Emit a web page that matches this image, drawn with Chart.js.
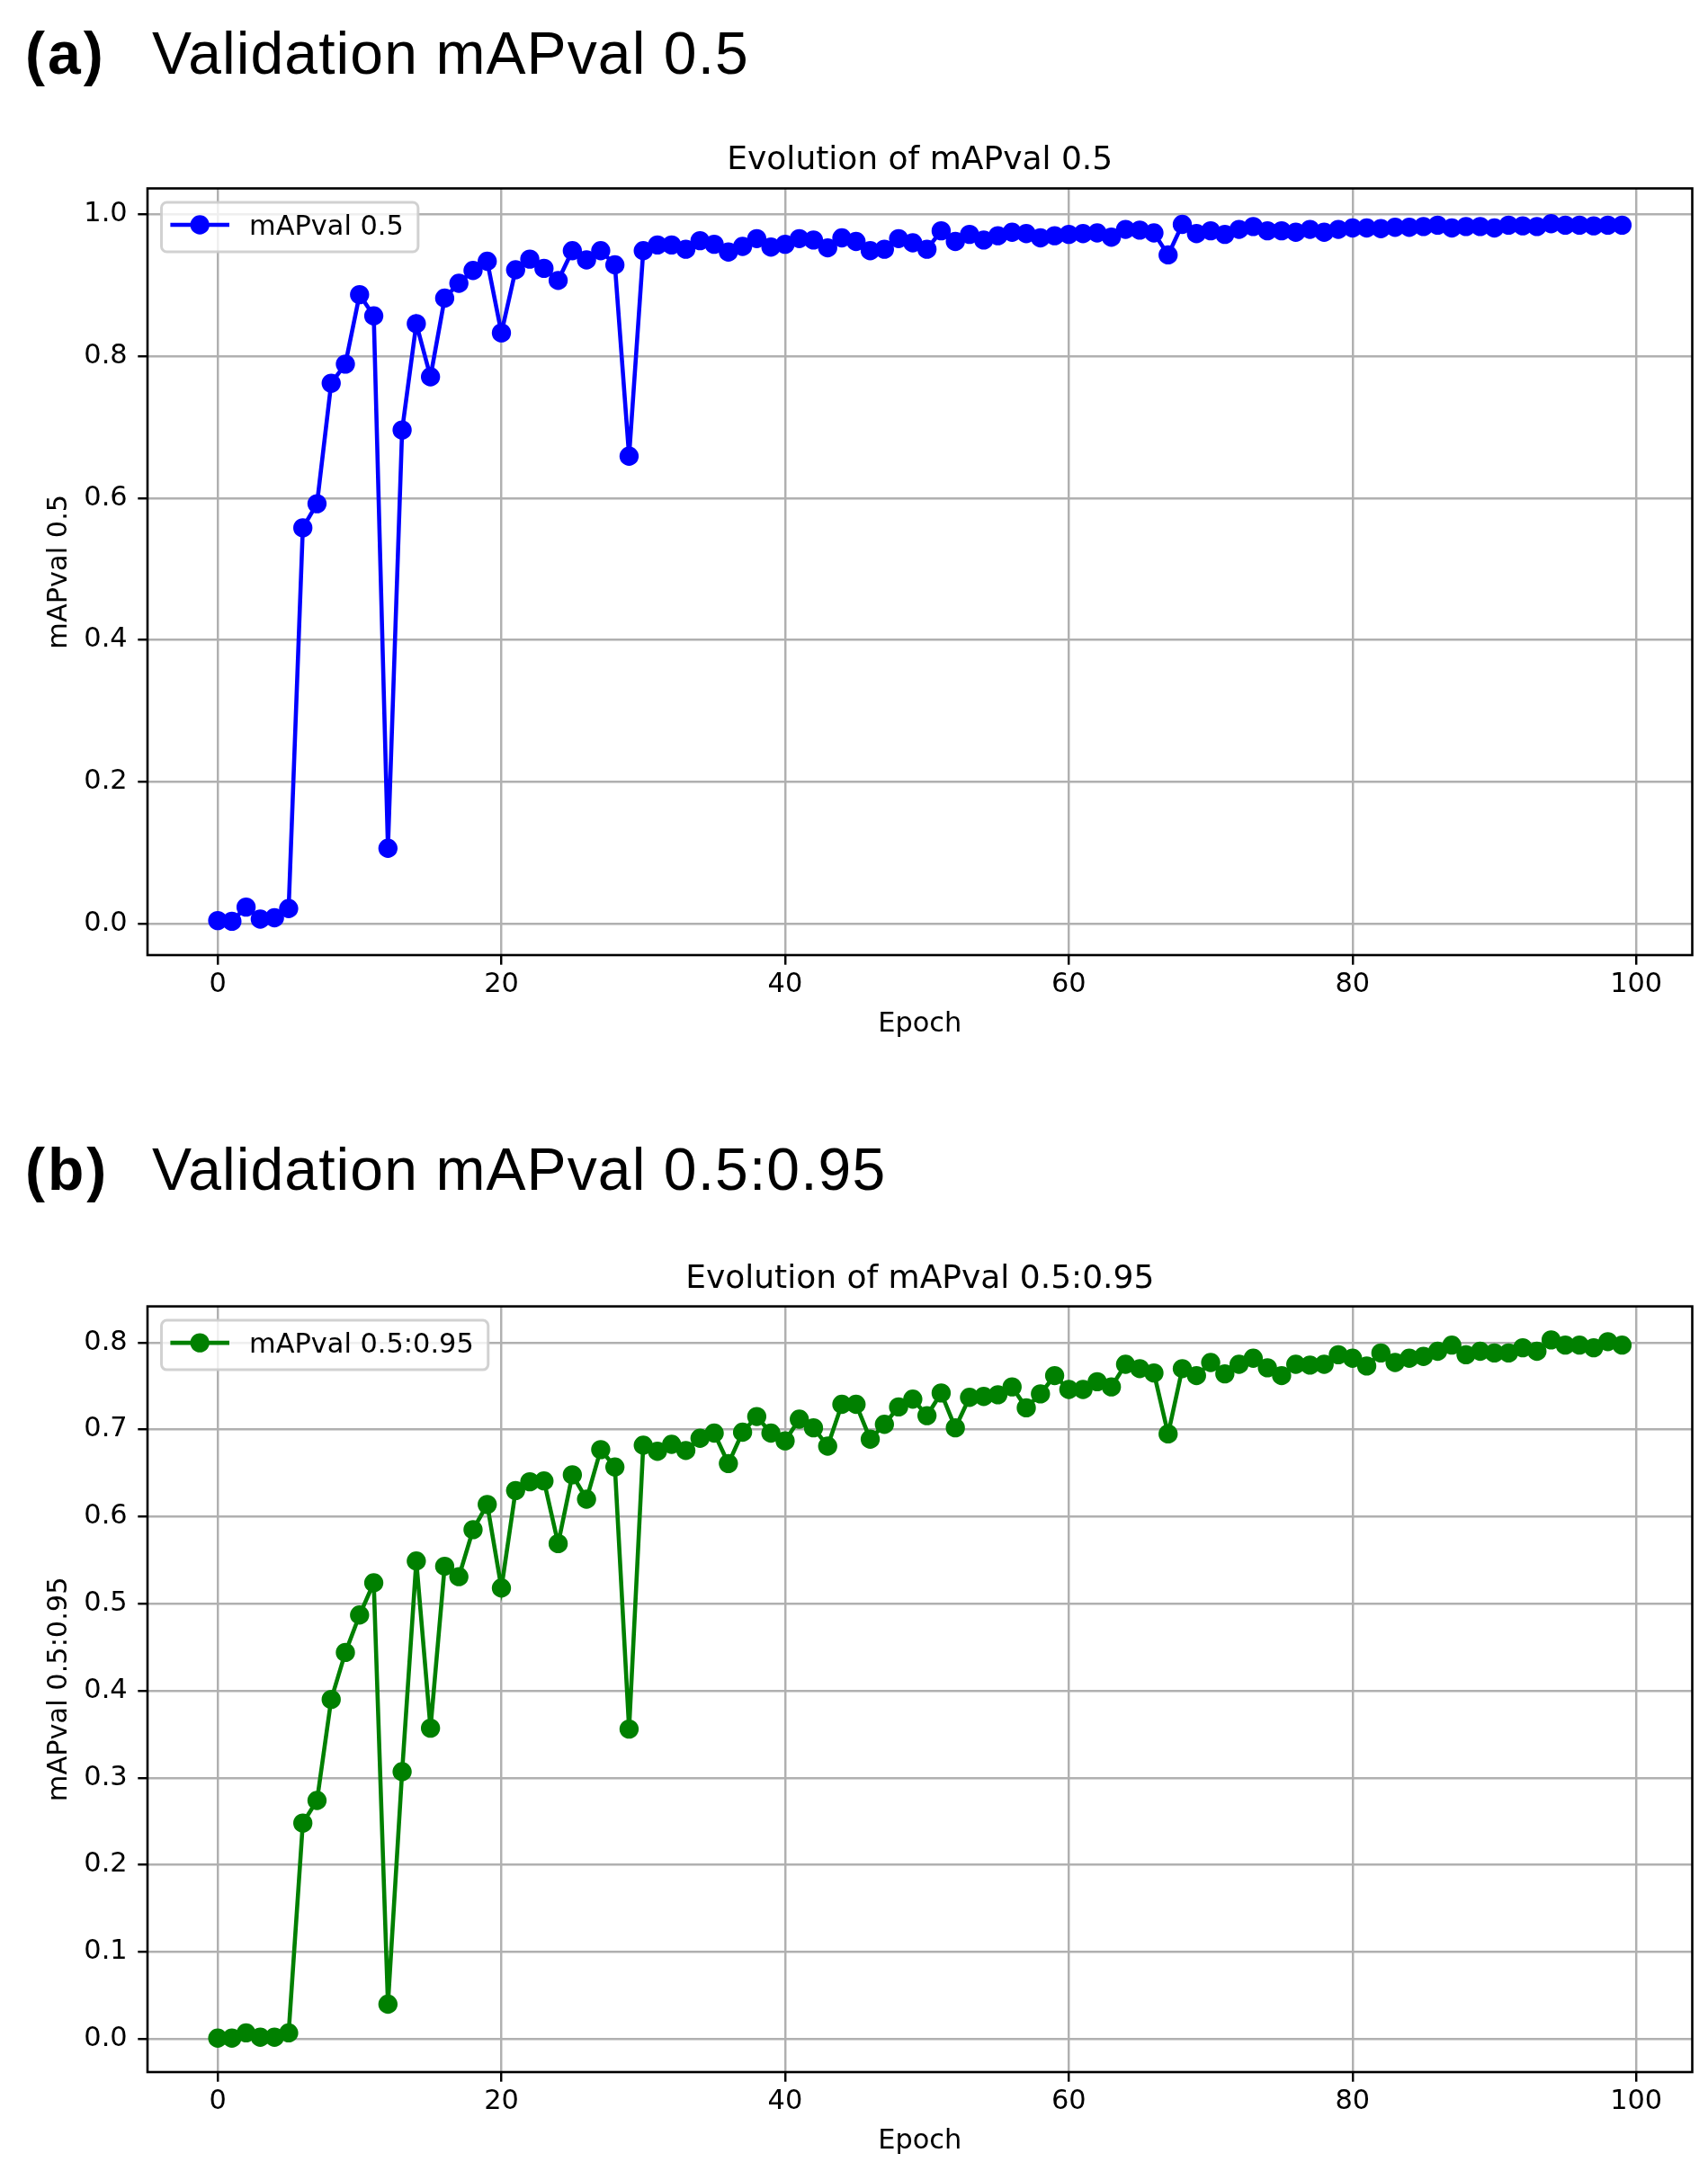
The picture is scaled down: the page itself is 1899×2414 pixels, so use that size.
<!DOCTYPE html>
<html>
<head>
<meta charset="utf-8">
<script src="https://cdn.jsdelivr.net/npm/chart.js@4/dist/chart.umd.min.js"></script>
<style>
  html, body { margin: 0; padding: 0; background: #fff; overflow: hidden; }
  body { width: 1899px; height: 2414px; position: relative; }
  .lab, .ttl { position: absolute; font-family: "Liberation Sans", Arial, sans-serif; font-size: 66px; line-height: 66px; color: #000; white-space: nowrap; }
  .lab { font-weight: bold; left: 28px; letter-spacing: 3px; }
  .ttl { left: 169px; letter-spacing: 1.1px; }
  canvas { position: absolute; left: 0; }
</style>
</head>
<body>
<div class="lab" style="top:26px">(a)</div>
<div class="ttl" style="top:26px">Validation mAPval 0.5</div>
<div class="lab" style="top:1267px">(b)</div>
<div class="ttl" style="top:1267px">Validation mAPval 0.5:0.95</div>
<canvas id="c1" width="1899" height="1032" style="top:140px"></canvas>
<canvas id="c2" width="1899" height="1031" style="top:1383px"></canvas>
<script>
// ---- data ----
const epochs = [0,1,2,3,4,5,6,7,8,9,10,11,12,13,14,15,16,17,18,19,20,21,22,23,24,25,26,27,28,29,30,31,32,33,34,35,36,37,38,39,40,41,42,43,44,45,46,47,48,49,50,51,52,53,54,55,56,57,58,59,60,61,62,63,64,65,66,67,68,69,70,71,72,73,74,75,76,77,78,79,80,81,82,83,84,85,86,87,88,89,90,91,92,93,94,95,96,97,98,99];

const map50 = [0.004,0.003,0.023,0.006,0.008,0.021,0.558,0.592,0.762,0.789,
  0.887,0.857,0.106,0.696,0.846,0.771,0.882,0.903,0.921,0.934,
  0.833,0.922,0.937,0.924,0.907,0.949,0.936,0.949,0.929,0.659,
  0.949,0.957,0.957,0.951,0.963,0.958,0.947,0.955,0.966,0.954,
  0.958,0.966,0.964,0.953,0.967,0.962,0.949,0.951,0.966,0.960,
  0.951,0.977,0.962,0.972,0.964,0.970,0.975,0.973,0.967,0.970,
  0.972,0.973,0.974,0.968,0.979,0.978,0.974,0.943,0.986,0.973,
  0.977,0.972,0.979,0.983,0.977,0.977,0.975,0.979,0.975,0.979,
  0.981,0.981,0.980,0.982,0.982,0.983,0.985,0.981,0.983,0.983,
  0.981,0.985,0.984,0.983,0.987,0.985,0.985,0.984,0.985,0.985];

const map5095 = [0.001,0.001,0.007,0.002,0.002,0.007,0.248,0.274,0.390,0.444,
  0.487,0.524,0.040,0.307,0.549,0.357,0.543,0.531,0.585,0.614,
  0.518,0.630,0.640,0.641,0.569,0.648,0.620,0.677,0.657,0.356,
  0.682,0.675,0.683,0.676,0.690,0.696,0.661,0.697,0.715,0.696,
  0.687,0.712,0.702,0.681,0.729,0.729,0.689,0.706,0.726,0.735,
  0.716,0.742,0.702,0.737,0.738,0.740,0.749,0.725,0.741,0.762,
  0.746,0.746,0.755,0.749,0.775,0.770,0.765,0.695,0.770,0.762,
  0.777,0.764,0.775,0.782,0.771,0.762,0.775,0.774,0.775,0.786,
  0.782,0.773,0.788,0.777,0.782,0.784,0.790,0.797,0.786,0.790,
  0.788,0.788,0.794,0.790,0.803,0.797,0.797,0.794,0.801,0.797];

const xTicks = [0,20,40,60,80,100];
const yTicks1 = [0.0,0.2,0.4,0.6,0.8,1.0];
const yTicks2 = [0.0,0.1,0.2,0.3,0.4,0.5,0.6,0.7,0.8];

const label1 = 'mAPval 0.5';
const label2 = 'mAPval 0.5:0.95';
const title1 = 'Evolution of mAPval 0.5';
const title2 = 'Evolution of mAPval 0.5:0.95';

// ---- styling ----
const FONT = '"DejaVu Sans", sans-serif';
const FS = 30.4;
const GRID = '#b0b0b0';

const mplFrame = {
  id: 'mplFrame',
  afterDatasetsDraw(chart, args, opts) {
    const ctx = chart.ctx, a = chart.chartArea;
    ctx.save();
    // spines
    ctx.strokeStyle = '#000';
    ctx.lineWidth = 2.6;
    ctx.strokeRect(a.left, a.top, a.right - a.left, a.bottom - a.top);
    // legend
    ctx.font = FS + 'px ' + FONT;
    const tw = ctx.measureText(opts.label).width;
    const bx = a.left + 15.5, by = a.top + 15.5, bh = 55;
    const bw = 12.2 + 61 + 24.4 + tw + 16;
    const r = 6;
    ctx.beginPath();
    ctx.moveTo(bx + r, by);
    ctx.lineTo(bx + bw - r, by);
    ctx.arcTo(bx + bw, by, bx + bw, by + r, r);
    ctx.lineTo(bx + bw, by + bh - r);
    ctx.arcTo(bx + bw, by + bh, bx + bw - r, by + bh, r);
    ctx.lineTo(bx + r, by + bh);
    ctx.arcTo(bx, by + bh, bx, by + bh - r, r);
    ctx.lineTo(bx, by + r);
    ctx.arcTo(bx, by, bx + r, by, r);
    ctx.closePath();
    ctx.fillStyle = 'rgba(255,255,255,0.8)';
    ctx.fill();
    ctx.strokeStyle = 'rgba(204,204,204,0.9)';
    ctx.lineWidth = 3;
    ctx.stroke();
    const ly = a.top + 40.5;
    ctx.strokeStyle = opts.color;
    ctx.lineWidth = 4.6;
    ctx.lineCap = 'square';
    ctx.beginPath();
    ctx.moveTo(bx + 12.2, ly);
    ctx.lineTo(bx + 73.2, ly);
    ctx.stroke();
    ctx.beginPath();
    ctx.arc(bx + 42.7, ly, 9.15, 0, Math.PI * 2);
    ctx.fillStyle = opts.color;
    ctx.fill();
    ctx.lineWidth = 3.06;
    ctx.stroke();
    ctx.fillStyle = '#000';
    ctx.textBaseline = 'alphabetic';
    ctx.textAlign = 'left';
    ctx.fillText(opts.label, bx + 97.6, a.top + 51.5);
    ctx.restore();
  }
};

function makeChart(id, cfg) {
  const pts = epochs.map((e, i) => ({x: e, y: cfg.values[i]}));
  return new Chart(document.getElementById(id), {
    type: 'line',
    data: {
      datasets: [{
        label: cfg.label,
        data: pts,
        borderColor: cfg.color,
        backgroundColor: cfg.color,
        pointBackgroundColor: cfg.color,
        pointBorderColor: cfg.color,
        borderWidth: 4.6,
        pointRadius: 9.15,
        pointBorderWidth: 3.06,
        tension: 0,
        fill: false
      }]
    },
    plugins: [mplFrame],
    options: {
      responsive: false,
      animation: false,
      devicePixelRatio: 1,
      events: [],
      layout: { padding: { left: 0, right: 17.5, top: 0, bottom: 0 } },
      plugins: {
        legend: { display: false },
        tooltip: { enabled: false },
        title: {
          display: true,
          fullSize: false,
          text: cfg.title,
          color: '#000',
          font: { family: FONT, size: 36, weight: 'normal', lineHeight: 1.2 },
          padding: cfg.titlePad
        },
        mplFrame: { label: cfg.label, color: cfg.color }
      },
      scales: {
        x: {
          type: 'linear',
          min: -4.95,
          max: 103.95,
          afterBuildTicks: s => { s.ticks = xTicks.map(v => ({value: v})); },
          afterFit: s => { s.height = 110; s.paddingLeft = 0; s.paddingRight = 0; },
          ticks: {
            color: '#000', padding: 4, maxRotation: 0, autoSkip: false,
            font: { family: FONT, size: FS, lineHeight: 1.2 },
            callback: v => String(v)
          },
          grid: { color: GRID, lineWidth: 2.45, tickColor: '#000', tickLength: 10.7, tickWidth: 2.45 },
          border: { display: false },
          title: {
            display: true, text: 'Epoch', color: '#000',
            font: { family: FONT, size: FS, lineHeight: 1.2 },
            padding: { top: 0, bottom: cfg.xTitlePad }
          }
        },
        y: {
          type: 'linear',
          min: cfg.ymin,
          max: cfg.ymax,
          afterBuildTicks: s => { s.ticks = cfg.yTicks.map(v => ({value: v})); },
          afterFit: s => { s.width = 164; s.paddingTop = 0; s.paddingBottom = 0; },
          ticks: {
            color: '#000', padding: 11.6, autoSkip: false,
            font: { family: FONT, size: FS, lineHeight: 1.2 },
            callback: v => Number(v).toFixed(1)
          },
          grid: { color: GRID, lineWidth: 2.45, tickColor: '#000', tickLength: 10.7, tickWidth: 2.45 },
          border: { display: false },
          title: {
            display: true, text: cfg.label, color: '#000',
            font: { family: FONT, size: FS, lineHeight: 1.2 },
            padding: { top: 47.5, bottom: 0 }
          }
        }
      }
    }
  });
}

makeChart('c1', {
  values: map50, label: label1, title: title1, color: '#0000ff',
  ymin: -0.0447, ymax: 1.0368, yTicks: yTicks1,
  titlePad: { top: 17.5, bottom: 8.8 }, xTitlePad: 15.1
});
makeChart('c2', {
  values: map5095, label: label2, title: title2, color: '#008000',
  ymin: -0.038, ymax: 0.8415, yTicks: yTicks2,
  titlePad: { top: 17.8, bottom: 8.6 }, xTitlePad: 14.8
});
</script>
</body>
</html>
